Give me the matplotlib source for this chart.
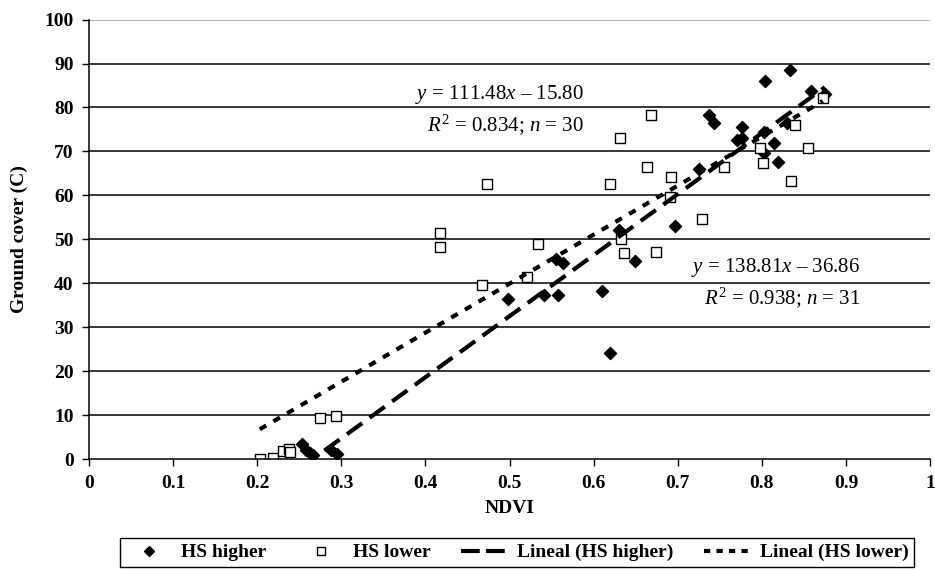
import matplotlib
matplotlib.use("Agg")
import matplotlib.pyplot as plt
import numpy as np
from matplotlib.lines import Line2D

# HS higher (filled diamonds)
hs_higher_x = [0.253, 0.258, 0.263, 0.266, 0.288, 0.295, 0.498, 0.541, 0.555, 0.558,
               0.563, 0.610, 0.619, 0.630, 0.649, 0.697, 0.725, 0.737, 0.743, 0.771,
               0.776, 0.776, 0.802, 0.803, 0.804, 0.814, 0.819, 0.830, 0.834, 0.858, 0.875]
hs_higher_y = [3.5, 2.1, 1.5, 1.0, 2.2, 1.3, 36.4, 37.3, 45.5, 37.3,
               44.7, 38.3, 24.1, 52.1, 45.1, 53.1, 66.1, 78.4, 76.4, 72.6,
               73.0, 75.5, 74.5, 69.7, 86.0, 72.0, 67.6, 76.4, 88.6, 83.8, 83.0]

# HS lower (open squares)
hs_lower_x = [0.203, 0.219, 0.231, 0.238, 0.239, 0.275, 0.294, 0.417, 0.417, 0.467,
              0.473, 0.521, 0.534, 0.619, 0.631, 0.632, 0.636, 0.663, 0.668, 0.674,
              0.691, 0.692, 0.729, 0.755, 0.798, 0.801, 0.835, 0.839, 0.855, 0.8725]
hs_lower_y = [0.1, 0.2, 2.0, 2.3, 1.6, 9.5, 9.9, 51.5, 48.2, 39.6,
              62.6, 41.5, 48.9, 62.7, 73.0, 50.0, 47.0, 66.5, 78.2, 47.1,
              59.7, 64.2, 54.7, 66.4, 70.7, 67.4, 63.2, 76.0, 70.8, 82.2]

# regression coefficients (slope, intercept)
fit_higher = (138.81, -36.86)
fit_lower = (111.48, -15.80)

x_ticks = [0, 0.1, 0.2, 0.3, 0.4, 0.5, 0.6, 0.7, 0.8, 0.9, 1]
x_tick_labels = ["0", "0.1", "0.2", "0.3", "0.4", "0.5", "0.6", "0.7", "0.8", "0.9", "1"]
y_ticks = list(range(0, 101, 10))

serif = ["Liberation Serif", "DejaVu Serif"]
plt.rcParams["font.family"] = serif
plt.rcParams["mathtext.fontset"] = "custom"
plt.rcParams["mathtext.it"] = "Liberation Serif:italic"
plt.rcParams["mathtext.rm"] = "Liberation Serif"
plt.rcParams["mathtext.bf"] = "Liberation Serif:bold"

fig = plt.figure(figsize=(9.35, 5.71), dpi=100)
ax = fig.add_axes([0.0952, 0.1956, 0.8995, 0.7702])

ax.set_xlim(0, 1)
ax.set_ylim(0, 100)
for yv in y_ticks[1:]:
    ax.axhline(yv, color="black" if yv < 100 else "#999999", lw=1.1, zorder=1)

ax.scatter(hs_higher_x, hs_higher_y, marker="D", s=38, color="black", zorder=2)
ax.scatter(hs_lower_x, hs_lower_y, marker="s", s=42, facecolor="white",
           edgecolor="black", linewidths=1.0, zorder=2)

xh = np.array([min(hs_higher_x), max(hs_higher_x)])
xl = np.array([min(hs_lower_x), max(hs_lower_x)])
ax.plot(xh, fit_higher[0] * xh + fit_higher[1], color="black", lw=3,
        dashes=(4.5, 2.2), zorder=3)
ax.plot(xl, fit_lower[0] * xl + fit_lower[1], color="black", lw=3,
        dashes=(1.8, 2.0), zorder=3)

ax.set_xticks(x_ticks)
ax.set_xticklabels(x_tick_labels)
ax.set_yticks(y_ticks)
ax.tick_params(axis="both", direction="out", length=5, width=1, color="black",
               labelsize=14, pad=6)
for lab in ax.get_xticklabels() + ax.get_yticklabels():
    lab.set_fontweight("bold")

for s in ["right", "top"]:
    ax.spines[s].set_visible(False)
ax.spines["left"].set_linewidth(1.1)
ax.spines["bottom"].set_linewidth(1.1)

ax.set_xlabel("NDVI", fontsize=14, fontweight="bold", labelpad=6)
ax.set_ylabel("Ground cover (C)", fontsize=14, fontweight="bold", labelpad=12)

eq_fs = 15
ax.text(0.589, 83.0, r"$y$ = 111.48$x$ – 15.80", fontsize=eq_fs, ha="right", va="center")
ax.text(0.589, 76.2, r"$R^2$ = 0.834; $n$ = 30", fontsize=eq_fs, ha="right", va="center")
ax.text(0.917, 43.6, r"$y$ = 138.81$x$ – 36.86", fontsize=eq_fs, ha="right", va="center")
ax.text(0.917, 36.8, r"$R^2$ = 0.938; $n$ = 31", fontsize=eq_fs, ha="right", va="center")

handles = [
    Line2D([], [], marker="D", ls="none", color="black", markersize=5),
    Line2D([], [], marker="s", ls="none", markerfacecolor="white", markeredgecolor="black",
           markersize=6, markeredgewidth=1),
    Line2D([], [], color="black", lw=3, dashes=(4.5, 1.5)),
    Line2D([], [], color="black", lw=3, dashes=(1.5, 1.5)),
]
labels = ["HS higher", "HS lower", "Lineal (HS higher)", "Lineal (HS lower)"]
leg = fig.legend(handles, labels, loc="upper center", bbox_to_anchor=(0.553, 0.058), ncol=4,
                 frameon=True, fancybox=False, edgecolor="black", framealpha=1,
                 prop={"family": serif, "weight": "bold", "size": 14},
                 handlelength=2.4, columnspacing=1.6, handletextpad=0.45,
                 borderpad=0.3, borderaxespad=0)
leg.get_frame().set_linewidth(1.0)

fig.savefig("out.png", dpi=100)
